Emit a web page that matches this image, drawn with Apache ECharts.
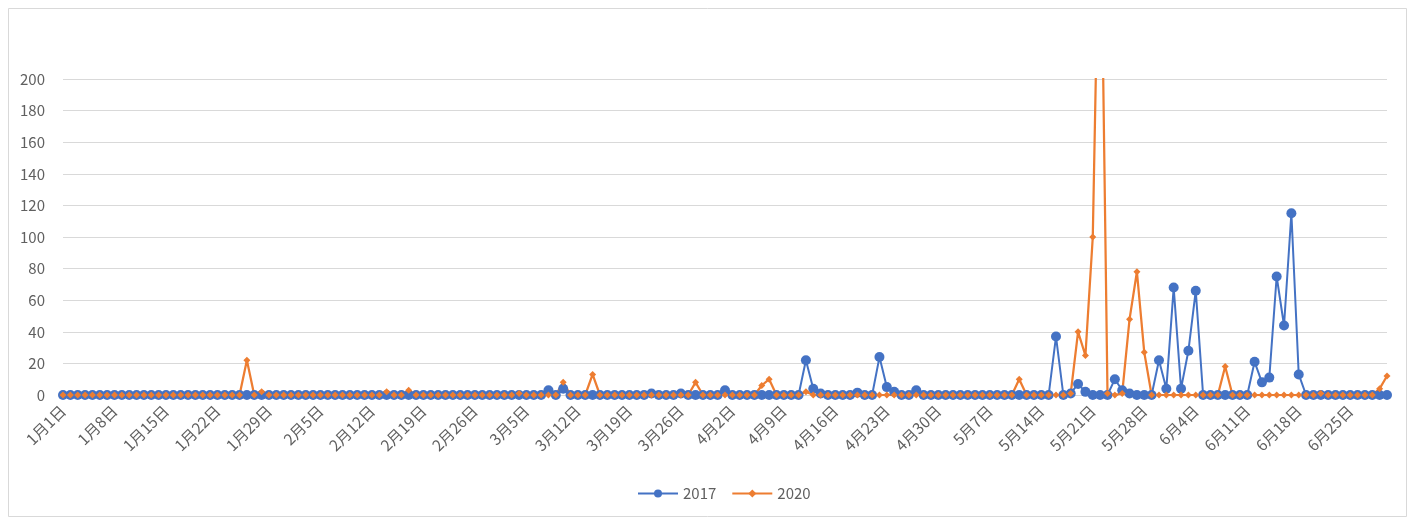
<!DOCTYPE html>
<html>
<head>
<meta charset="utf-8">
<script src="https://cdn.jsdelivr.net/npm/echarts@6/dist/echarts.min.js"></script>
<style>
  html, body { margin: 0; padding: 0; background: #ffffff; }
  #chart { width: 1415px; height: 521px; }
</style>
</head>
<body>
<div id="chart"></div>
<script>
// Days per month, January to June (non-leap year)
const monthDays = [31, 28, 31, 30, 31, 30];

// Category labels: 1月1日 … 6月30日
const categories = [];
monthDays.forEach((n, m) => {
  for (let d = 1; d <= n; d++) categories.push((m + 1) + '月' + d + '日');
});

// Daily values, one row per week starting 1月1日
const values2017 = [
  0, 0, 0, 0, 0, 0, 0,
  0, 0, 0, 0, 0, 0, 0,
  0, 0, 0, 0, 0, 0, 0,
  0, 0, 0, 0, 0, 0, 0,
  0, 0, 0, 0, 0, 0, 0,
  0, 0, 0, 0, 0, 0, 0,
  0, 0, 0, 0, 0, 0, 0,
  0, 0, 0, 0, 0, 0, 0,
  0, 0, 0, 0, 0, 0, 0,
  0, 0, 0, 3, 0, 4, 0,
  0, 0, 0, 0, 0, 0, 0,
  0, 0, 0, 1, 0, 0, 0,
  1, 0, 0, 0, 0, 0, 3,
  0, 0, 0, 0, 0, 0, 0,
  0, 0, 0, 22, 4, 1, 0,
  0, 0, 0, 1.5, 0, 0, 24,
  5, 2, 0, 0, 3, 0, 0,
  0, 0, 0, 0, 0, 0, 0,
  0, 0, 0, 0, 0, 0, 0,
  0, 0, 37, 0, 1, 7, 2,
  0, 0, 0, 10, 3, 1, 0,
  0, 0, 22, 4, 68, 4, 28,
  66, 0, 0, 0, 0, 0, 0,
  0, 21, 8, 11, 75, 44, 115,
  13, 0, 0, 0, 0, 0, 0,
  0, 0, 0, 0, 0, 0
];

const values2020 = [
  0, 0, 0, 0, 0, 0, 0,
  0, 0, 0, 0, 0, 0, 0,
  0, 0, 0, 0, 0, 0, 0,
  0, 0, 0, 0, 22, 0, 2,
  0, 0, 0, 0, 0, 0, 0,
  0, 0, 0, 0, 0, 0, 0,
  0, 0, 2, 0, 0, 3, 0,
  0, 0, 0, 0, 0, 0, 0,
  0, 0, 0, 0, 0, 0, 1,
  0, 0, 0, 0, 0, 8, 0,
  0, 0, 13, 0, 0, 0, 0,
  0, 0, 0, 0, 0, 0, 0,
  0, 0, 8, 0, 0, 0, 0,
  0, 0, 0, 0, 6, 10, 0,
  0, 0, 0, 2, 0, 0, 0,
  0, 0, 0, 0, 0, 0, 0,
  0, 0, 0, 0, 0, 0, 0,
  0, 0, 0, 0, 0, 0, 0,
  0, 0, 0, 0, 10, 0, 0,
  0, 0, 0, 0, 1, 40, 25,
  100, 345, 1, 0, 1, 48, 78,
  27, 0, 0, 0, 0, 0, 0,
  0, 0, 0, 0, 18, 0, 0,
  0, 0, 0, 0, 0, 0, 0,
  0, 0, 0, 1, 0, 0, 0,
  0, 0, 0, 0, 4, 12
];

const seriesNames = ['2017', '2020'];
const yTicks = { min: 0, max: 200, interval: 20 };

const textColor = '#606060';
const gridColor = '#d9d9d9';
const fontFamily = '"Noto Sans CJK SC", "Noto Sans", sans-serif';

const chart = echarts.init(document.getElementById('chart'), null, { renderer: 'canvas' });

chart.setOption({
  animation: false,
  backgroundColor: '#ffffff',
  textStyle: { fontFamily: fontFamily },
  graphic: [{
    type: 'rect',
    silent: true,
    shape: { x: 8.5, y: 8.5, width: 1398, height: 508 },
    style: { fill: 'none', stroke: gridColor, lineWidth: 1 }
  }],
  grid: { left: 63, top: 79, width: 1324, height: 316, containLabel: false },
  legend: {
    data: seriesNames,
    bottom: 15,
    left: 632,
    itemWidth: 40,
    itemHeight: 10,
    itemGap: 15,
    textStyle: { color: textColor, fontSize: 15, fontFamily: fontFamily }
  },
  xAxis: {
    type: 'category',
    data: categories,
    boundaryGap: false,
    axisLine: { show: true, lineStyle: { color: gridColor, width: 1 } },
    axisTick: { show: false },
    axisLabel: {
      interval: 6,
      rotate: 45,
      margin: 13,
      color: textColor,
      fontSize: 15.5,
      fontFamily: fontFamily
    },
    splitLine: { show: false }
  },
  yAxis: {
    type: 'value',
    min: yTicks.min,
    max: yTicks.max,
    interval: yTicks.interval,
    axisLine: { show: false },
    axisTick: { show: false },
    axisLabel: { color: textColor, fontSize: 15, margin: 18, fontFamily: fontFamily },
    splitLine: { lineStyle: { color: gridColor, width: 1 } }
  },
  series: [
    {
      name: seriesNames[0],
      type: 'line',
      data: values2017,
      symbol: 'circle',
      symbolSize: 10,
      showAllSymbol: true,
      clip: true,
      lineStyle: { color: '#4472C4', width: 2 },
      itemStyle: { color: '#4472C4' }
    },
    {
      name: seriesNames[1],
      type: 'line',
      data: values2020,
      symbol: 'diamond',
      symbolSize: 7,
      showAllSymbol: true,
      clip: true,
      lineStyle: { color: '#ED7D31', width: 2.25 },
      itemStyle: { color: '#ED7D31' }
    }
  ]
});
</script>
</body>
</html>
